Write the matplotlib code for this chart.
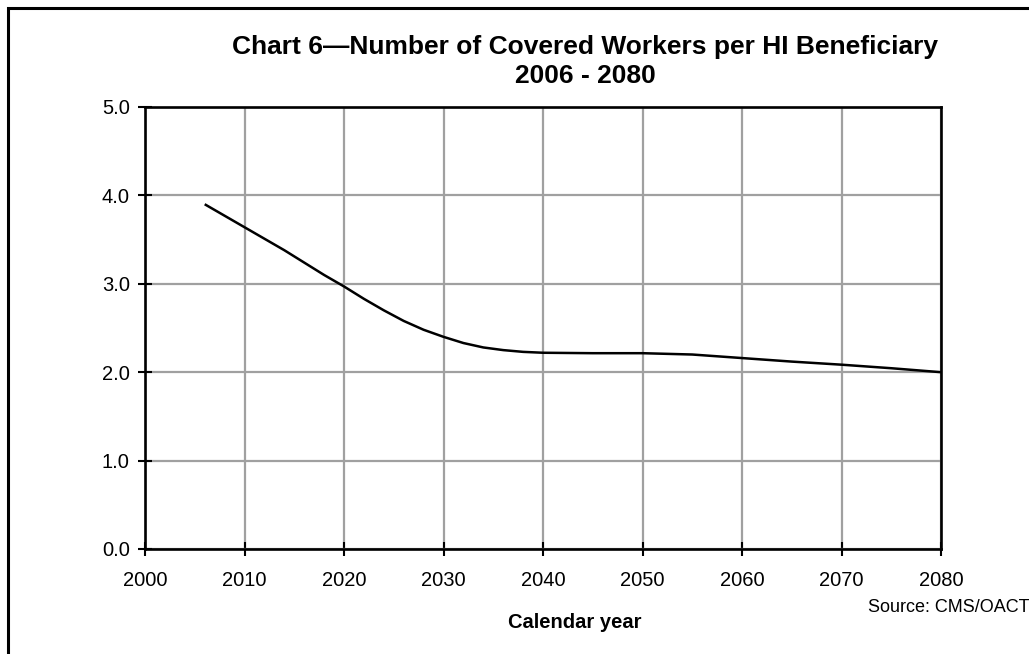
import matplotlib
matplotlib.use("Agg")
import matplotlib.pyplot as plt
from matplotlib.patches import Rectangle

# covered workers per HI beneficiary, intermediate projection
years = [2006, 2008, 2010, 2012, 2014, 2016, 2018, 2020, 2022, 2024, 2026, 2028,
         2030, 2032, 2034, 2036, 2038, 2040, 2045, 2050, 2055, 2060, 2065, 2070,
         2075, 2080]
workers_per_benef = [3.90, 3.77, 3.64, 3.51, 3.38, 3.24, 3.10, 2.97, 2.83, 2.70, 2.58, 2.48,
                     2.40, 2.33, 2.28, 2.25, 2.23, 2.22, 2.215, 2.215, 2.20, 2.16, 2.12, 2.085,
                     2.045, 2.00]

x_ticks = [2000, 2010, 2020, 2030, 2040, 2050, 2060, 2070, 2080]
y_ticks = [0.0, 1.0, 2.0, 3.0, 4.0, 5.0]

plt.rcParams['font.family'] = ['Liberation Sans', 'DejaVu Sans']

fig = plt.figure(figsize=(10.29, 6.54), dpi=100)
ax = fig.add_axes([145/1029, 1-549/654, (941-145)/1029, (549-107)/654])

ax.plot(years, workers_per_benef, color='black', lw=1.8, solid_capstyle='butt',
        solid_joinstyle='round')

ax.set_xlim(2000, 2080)
ax.set_ylim(0, 5)
ax.set_xticks(x_ticks)
ax.set_yticks(y_ticks)
ax.set_yticklabels(['%.1f' % v for v in y_ticks])
ax.grid(True, color='#a0a0a0', lw=1.6)
ax.set_axisbelow(True)
for s in ax.spines.values():
    s.set_linewidth(1.9)
    s.set_color('black')
ax.tick_params(direction='inout', length=10, width=1.5, labelsize=14.5)
ax.tick_params(axis='x', pad=11)
ax.tick_params(axis='y', pad=6)

fig.text(575/1029, 1-622/654, 'Calendar year', ha='center', va='center',
         fontsize=14.5, fontweight='bold')
fig.text(585/1029, 1-47/654, 'Chart 6\u2014Number of Covered Workers per HI Beneficiary',
         ha='center', va='center', fontsize=19, fontweight='bold')
fig.text(585/1029, 1-76/654, '2006 - 2080', ha='center', va='center',
         fontsize=19, fontweight='bold')
fig.text(868/1029, 1-607/654, 'Source: CMS/OACT', ha='left', va='center', fontsize=13)

# outer border of the chart box
fig.patches.append(Rectangle((8/1029, -0.2), 1.2, 1.2 - 8/654, transform=fig.transFigure,
                             fill=False, edgecolor='black', lw=2.2))

fig.savefig('out.png', dpi=100)
